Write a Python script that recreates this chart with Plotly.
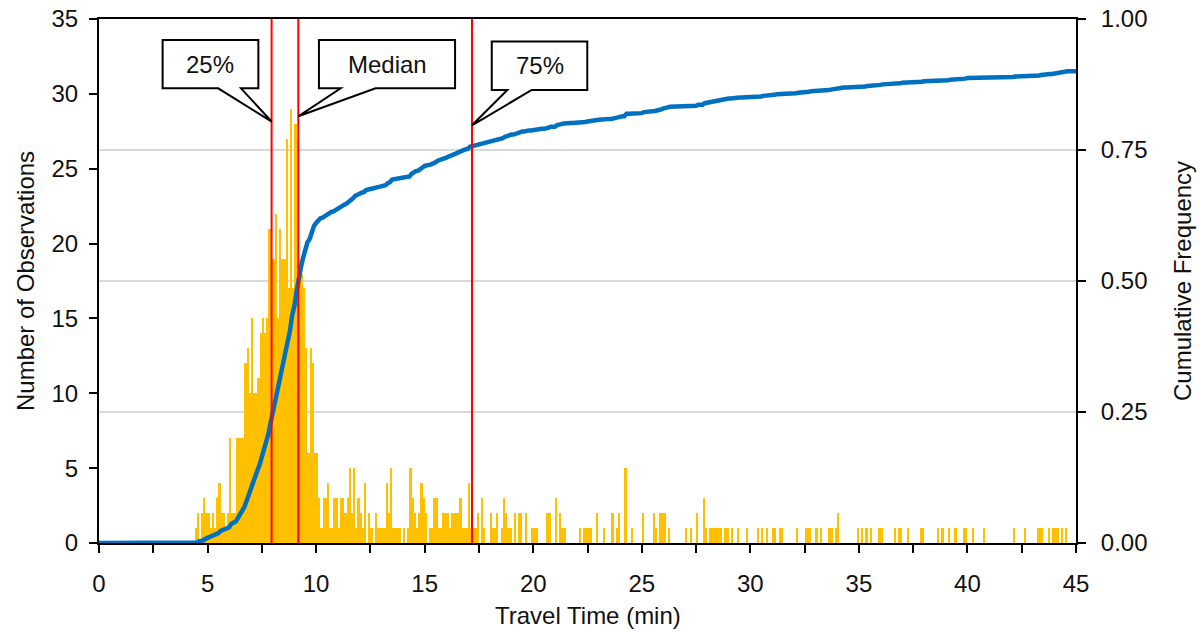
import numpy as np
import plotly.graph_objects as go

# ---------------- data ----------------
bin_width = 0.1  # minutes
# observations per 0.1-minute bin, one row per minute (0.0-0.9, 1.0-1.9, ...)
counts = [
    0, 0, 0, 0, 0, 0, 0, 0, 0, 0,   # 0
    0, 0, 0, 0, 0, 0, 0, 0, 0, 0,   # 1
    0, 0, 0, 0, 0, 0, 0, 0, 0, 0,   # 2
    0, 0, 0, 0, 0, 0, 0, 0, 0, 0,   # 3
    0, 0, 0, 0, 1, 2, 0, 2, 3, 2,   # 4
    2, 1, 2, 1, 3, 4, 2, 2, 1, 2,   # 5
    7, 2, 2, 7, 7, 7, 7, 12, 13, 10,  # 6
    15, 10, 10, 11, 14, 15, 14, 15, 21, 19,  # 7
    19, 22, 15, 21, 19, 19, 27, 17, 29, 17,  # 8
    28, 27, 19, 18, 17, 13, 6, 13, 12, 6,  # 9
    6, 3, 1, 3, 3, 4, 1, 1, 3, 3,   # 10
    1, 3, 3, 2, 3, 5, 2, 5, 1, 3,   # 11
    2, 1, 4, 0, 2, 1, 0, 2, 1, 1,   # 12
    1, 1, 4, 2, 5, 1, 1, 1, 1, 0,   # 13
    1, 0, 1, 5, 3, 2, 1, 2, 4, 3,   # 14
    2, 0, 1, 1, 3, 3, 1, 1, 2, 2,   # 15
    2, 1, 2, 2, 2, 2, 3, 1, 1, 1,   # 16
    4, 1, 1, 1, 2, 0, 3, 1, 0, 0,   # 17
    2, 1, 1, 2, 0, 1, 3, 2, 1, 1,   # 18
    0, 2, 0, 2, 2, 0, 2, 0, 0, 1,   # 19
    1, 1, 0, 0, 0, 0, 2, 2, 0, 0,   # 20
    3, 0, 2, 1, 1, 0, 0, 0, 0, 0,   # 21
    0, 1, 0, 1, 1, 1, 1, 0, 0, 2,   # 22
    0, 0, 1, 0, 0, 0, 2, 0, 1, 2,   # 23
    0, 0, 5, 0, 0, 1, 0, 0, 0, 0,   # 24
    2, 0, 0, 0, 0, 2, 1, 0, 2, 2,   # 25
    2, 0, 1, 0, 0, 0, 0, 0, 0, 0,   # 26
    1, 0, 1, 0, 0, 2, 0, 0, 3, 1,   # 27
    0, 1, 1, 1, 1, 1, 1, 0, 1, 1,   # 28
    0, 1, 0, 0, 1, 0, 0, 0, 1, 0,   # 29
    0, 0, 0, 1, 0, 1, 0, 1, 0, 0,   # 30
    1, 1, 0, 1, 1, 0, 0, 0, 0, 0,   # 31
    0, 1, 0, 0, 0, 1, 1, 1, 0, 0,   # 32
    1, 0, 1, 0, 0, 0, 1, 1, 0, 1,   # 33
    2, 0, 0, 0, 0, 0, 0, 0, 0, 1,   # 34
    0, 1, 0, 1, 0, 1, 0, 0, 0, 1,   # 35
    1, 0, 0, 0, 0, 0, 1, 0, 1, 1,   # 36
    0, 0, 1, 0, 0, 0, 0, 0, 1, 1,   # 37
    0, 0, 0, 0, 0, 0, 1, 0, 1, 0,   # 38
    0, 1, 0, 0, 1, 0, 0, 0, 1, 1,   # 39
    0, 0, 1, 0, 0, 0, 0, 1, 0, 0,   # 40
    0, 0, 0, 0, 0, 0, 0, 0, 0, 0,   # 41
    0, 1, 0, 0, 0, 0, 1, 0, 0, 0,   # 42
    0, 0, 1, 1, 1, 0, 0, 1, 0, 1,   # 43
    1, 1, 0, 1, 0, 1, 0, 0, 0, 0,   # 44
]
count_beyond_45 = 100          # observations above 45 min (off-chart)
quartile_times = [7.95, 9.18, 17.18]
quartile_labels = ["25%", "Median", "75%"]
x_ticks = [0, 5, 10, 15, 20, 25, 30, 35, 40, 45]
y_ticks = [0, 5, 10, 15, 20, 25, 30, 35]
freq_ticks = [0.0, 0.25, 0.5, 0.75, 1.0]

# ---------------- derived ----------------
counts_arr = np.array(counts, dtype=float)
bin_starts = np.round(np.arange(len(counts_arr)) * bin_width, 2)
total_obs = counts_arr.sum() + count_beyond_45
cum_x = np.concatenate([[0.0], bin_starts + bin_width])
cum_y = np.concatenate([[0.0], np.cumsum(counts_arr) / total_obs])

# ---------------- styling ----------------
FONT = "Liberation Sans"
TXT = "#111111"
FS = 24
fig = go.Figure()
fig.add_trace(go.Bar(
    x=bin_starts, y=counts_arr, width=bin_width, offset=0,
    marker=dict(color="#FFC000", line=dict(width=0)),
    showlegend=False, hoverinfo="x+y"))
fig.add_trace(go.Scatter(
    x=cum_x, y=cum_y, yaxis="y2", mode="lines",
    line=dict(color="#0070C0", width=4.5), showlegend=False))

# quartile lines
for q in quartile_times:
    fig.add_shape(type="line", xref="x", yref="paper", x0=q, x1=q, y0=0, y1=1,
                  line=dict(color="#FF0000", width=2), layer="above")

# callout geometry (minutes / observation units): box x0,x1,y0,y1, wedge base xa,xb, tip y
callouts = [
    dict(box=(2.93, 7.34, 30.37, 33.6), base=(5.49, 6.54), tip_y=28.15),
    dict(box=(10.13, 16.40, 30.37, 33.6), base=(11.13, 12.74), tip_y=28.5),
    dict(box=(18.09, 22.49, 30.26, 33.49), base=(18.81, 19.93), tip_y=27.9),
]
for q, lab, c in zip(quartile_times, quartile_labels, callouts):
    x0, x1, y0, y1 = c["box"]
    xa, xb = c["base"]
    path = (f"M {x0},{y1} L {x1},{y1} L {x1},{y0} L {xb},{y0} L {q},{c['tip_y']} "
            f"L {xa},{y0} L {x0},{y0} Z")
    fig.add_shape(type="path", path=path, xref="x", yref="y",
                  fillcolor="white", line=dict(color="black", width=2), layer="above")
    fig.add_annotation(x=(x0 + x1) / 2, y=(y0 + y1) / 2, xref="x", yref="y",
                       text=lab, showarrow=False,
                       font=dict(family=FONT, size=FS, color=TXT))

axis_common = dict(showline=True, linecolor="black", linewidth=2,
                   ticks="outside", ticklen=8, tickwidth=2, tickcolor="black",
                   tickfont=dict(family=FONT, size=FS, color=TXT), zeroline=False,
                   automargin=False)
inner_ticks = dict(ticks="inside", ticklen=8, tickwidth=2, tickcolor="black",
                   showticklabels=False, showgrid=False, showline=False,
                   zeroline=False, automargin=False, anchor="x", overlaying="y")

fig.update_layout(
    width=1200, height=632,
    margin=dict(l=99, r=124, t=19, b=89),
    paper_bgcolor="white", plot_bgcolor="white",
    bargap=0, showlegend=False,
    xaxis=dict(range=[0, 45], tickvals=x_ticks, showgrid=False, mirror=True,
               ticklabelstandoff=10,
               minor=dict(dtick=2.5, tick0=0, ticks="outside", ticklen=8,
                          tickwidth=2, tickcolor="black", showgrid=False),
               **axis_common),
    yaxis=dict(range=[0, 35], tickvals=y_ticks, showgrid=False,
               ticklabelstandoff=6, **axis_common),
    yaxis2=dict(range=[0, 1], tickvals=freq_ticks, tickformat=".2f",
                overlaying="y", side="right", showgrid=True,
                gridcolor="#D9D9D9", gridwidth=1.5, ticklabelstandoff=10,
                **axis_common),
    yaxis3=dict(range=[0, 35], tickvals=y_ticks, side="left", **inner_ticks),
    yaxis4=dict(range=[0, 1], tickvals=freq_ticks, side="right", **inner_ticks),
)

# axis titles
fig.add_annotation(text="Travel Time (min)", xref="paper", yref="paper",
                   x=0.5, y=0, yshift=-72, showarrow=False, yanchor="middle",
                   font=dict(family=FONT, size=FS, color=TXT))
fig.add_annotation(text="Number of Observations", xref="paper", yref="paper",
                   x=0, xshift=-74, y=0.5, textangle=-90, showarrow=False,
                   xanchor="center", font=dict(family=FONT, size=FS, color=TXT))
fig.add_annotation(text="Cumulative Frequency", xref="paper", yref="paper",
                   x=1, xshift=106, y=0.5, textangle=-90, showarrow=False,
                   xanchor="center", font=dict(family=FONT, size=FS, color=TXT))

fig.write_html("out.html")
